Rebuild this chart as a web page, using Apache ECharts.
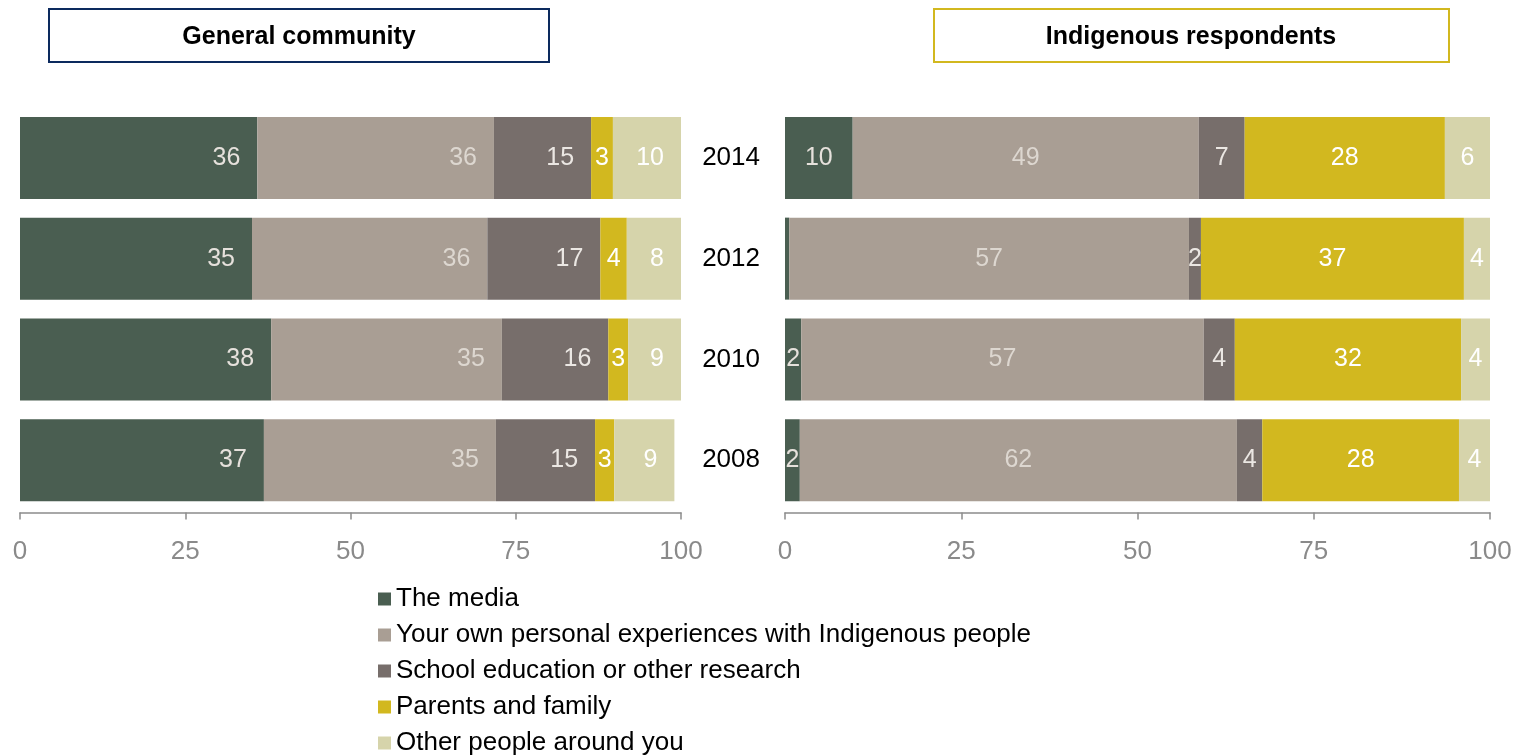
<!DOCTYPE html>
<html><head><meta charset="utf-8">
<script src="https://cdn.jsdelivr.net/npm/echarts@6/dist/echarts.min.js"></script>
<style>html,body{margin:0;padding:0;background:#fff}#c{width:1522px;height:755px}</style>
</head><body><div id="c"></div>
<script>
const years = ['2014', '2012', '2010', '2008'];
const seriesNames = ['The media', 'Your own personal experiences with Indigenous people', 'School education or other research', 'Parents and family', 'Other people around you'];
const xTicks = [0, 25, 50, 75, 100];
const panelTitles = ['General community', 'Indigenous respondents'];

// General community (%), order: 2014, 2012, 2010, 2008
const genMedia    = [35.9, 35.1, 38.0, 36.9];
const genPersonal = [35.8, 35.6, 34.9, 35.1];
const genSchool   = [14.7, 17.1, 16.1, 15.0];
const genParents  = [3.3, 4.0, 3.0, 2.9];
const genOther    = [10.3, 8.3, 8.6, 9.1];

// Indigenous respondents (%)
const indMedia    = [9.6, 0.6, 2.3, 2.1];
const indPersonal = [49.1, 56.7, 57.1, 62.0];
const indSchool   = [6.5, 1.7, 4.4, 3.6];
const indParents  = [28.4, 37.3, 32.1, 27.9];
const indOther    = [6.4, 3.7, 4.1, 4.4];

const colors = ['#4a5e51', '#a99e94', '#776e6b', '#d2b81f', '#d6d4ab'];
const labelColors = ['#e6e1dc', '#ddd7d0', '#ebe7e3', '#ffffff', '#ffffff'];
const FONT = 'Liberation Sans, Arial, sans-serif';

const genData = [genMedia, genPersonal, genSchool, genParents, genOther];
const indData = [indMedia, indPersonal, indSchool, indParents, indOther];

function makeSeries(dataSets, axisIdx, pos) {
  return dataSets.map((d, i) => ({
    name: seriesNames[i],
    type: 'bar',
    stack: 'p' + axisIdx,
    xAxisIndex: axisIdx,
    yAxisIndex: axisIdx,
    barWidth: 82,
    data: d,
    itemStyle: { color: colors[i] },
    label: {
      show: true,
      position: (pos === 'right' && i !== 3) ? 'insideRight' : 'inside',
      distance: 17,
      color: labelColors[i],
      fontFamily: FONT,
      fontSize: 25,
      formatter: p => p.value < 1 ? '' : String(Math.round(p.value))
    },
    emphasis: { disabled: true },
    animation: false
  }));
}

function xAxis(gridIndex) {
  return {
    type: 'value', gridIndex, min: 0, max: 100, interval: 25,
    offset: 2,
    axisLine: { show: true, lineStyle: { color: '#8c8c8c', width: 1.5 } },
    axisTick: { show: true, length: 7, lineStyle: { color: '#8c8c8c', width: 1.5 } },
    splitLine: { show: false },
    axisLabel: { color: '#8a8a8a', fontSize: 26, fontFamily: FONT, margin: 26,
      formatter: v => xTicks.includes(v) ? String(v) : '' }
  };
}

const chart = echarts.init(document.getElementById('c'), null, { renderer: 'canvas' });
chart.setOption({
  backgroundColor: '#fff',
  animation: false,
  grid: [
    { left: 20, right: 841, top: 107.5, height: 403 },
    { left: 785, right: 32, top: 107.5, height: 403 }
  ],
  xAxis: [xAxis(0), xAxis(1)],
  yAxis: [
    { type: 'category', gridIndex: 0, data: years, inverse: true,
      axisLine: { show: false }, axisTick: { show: false }, axisLabel: { show: false } },
    { type: 'category', gridIndex: 1, data: years, inverse: true,
      axisLine: { show: false }, axisTick: { show: false },
      axisLabel: { color: '#000', fontSize: 26, fontFamily: FONT, margin: 25 } }
  ],
  legend: {
    type: 'plain',
    orient: 'vertical', left: 373, top: 581, height: 200, width: 800,
    itemWidth: 13, itemHeight: 13, itemGap: 10, icon: 'rect',
    textStyle: { color: '#000', fontSize: 26, fontFamily: FONT },
    data: seriesNames,
    selectedMode: false
  },
  graphic: [
    { type: 'rect', shape: { x: 49, y: 9, width: 500, height: 53 },
      style: { fill: '#fff', stroke: '#0c2a5e', lineWidth: 2 } },
    { type: 'text', x: 299, y: 37, style: { text: panelTitles[0], fill: '#000', font: 'bold 25px ' + FONT, textAlign: 'center', textVerticalAlign: 'middle' } },
    { type: 'rect', shape: { x: 934, y: 9, width: 515, height: 53 },
      style: { fill: '#fff', stroke: '#d2b81f', lineWidth: 2 } },
    { type: 'text', x: 1191, y: 37, style: { text: panelTitles[1], fill: '#000', font: 'bold 25px ' + FONT, textAlign: 'center', textVerticalAlign: 'middle' } }
  ],
  series: [...makeSeries(genData, 0, 'right'), ...makeSeries(indData, 1, 'center')]
});
</script></body></html>
